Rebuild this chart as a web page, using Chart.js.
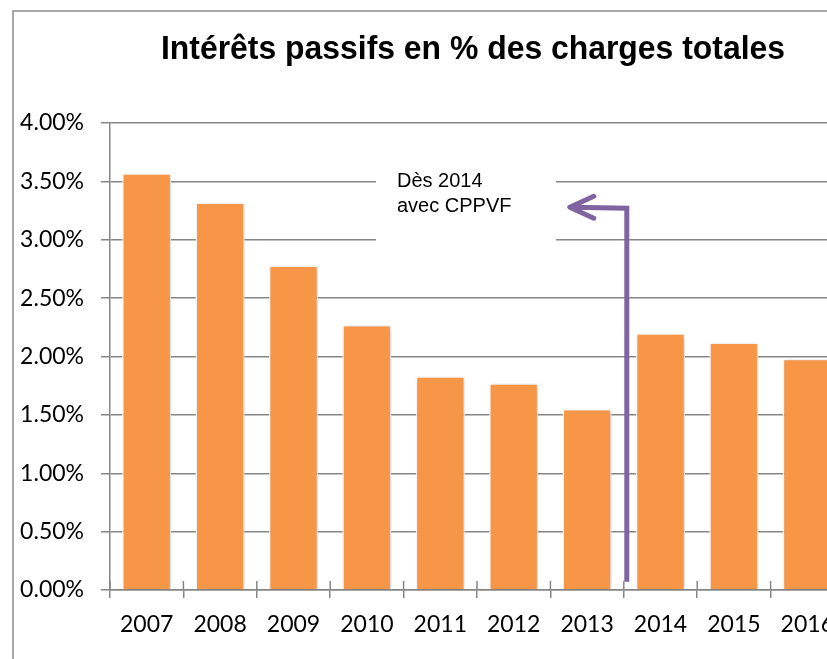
<!DOCTYPE html>
<html>
<head>
<meta charset="utf-8">
<script src="https://cdn.jsdelivr.net/npm/chart.js@4.4.1/dist/chart.umd.min.js"></script>
<style>
  html, body { margin: 0; padding: 0; background: #fff; overflow: hidden; }
  canvas { display: block; }
</style>
</head>
<body>
<canvas id="chart" width="850" height="659"></canvas>
<script>
// Data
const years = ["2007", "2008", "2009", "2010", "2011", "2012", "2013", "2014", "2015", "2016"];
const interestShare = [3.57, 3.32, 2.78, 2.27, 1.83, 1.77, 1.55, 2.20, 2.12, 1.98];
const titleText = "Intérêts passifs en % des charges totales";
const noteLines = ["Dès 2014", "avec CPPVF"];

const BAR_ORANGE = '#F79646';
const GRID_GREY = '#868686';
const ARROW_PURPLE = '#8064A2';

// frame, title, note box and arrow
const decorations = {
    id: 'decorations',
    beforeDraw(chart) {
        const ctx = chart.ctx;
        ctx.save();
        ctx.strokeStyle = '#8c8c8c';
        ctx.lineWidth = 1.5;
        ctx.beginPath();
        ctx.moveTo(13, 659);
        ctx.lineTo(13, 11);
        ctx.lineTo(850, 11);
        ctx.stroke();

        ctx.fillStyle = '#000';
        ctx.font = 'bold 33px "Liberation Sans", Arial, sans-serif';
        ctx.textAlign = 'left';
        ctx.textBaseline = 'alphabetic';
        ctx.fillText(titleText, 161, 59, 624);
        ctx.restore();
    },
    beforeDatasetsDraw(chart) {
        const ctx = chart.ctx;
        ctx.save();
        ctx.shadowColor = 'rgba(0,0,0,0.22)';
        ctx.shadowBlur = 4;
        ctx.shadowOffsetX = 1;
        ctx.shadowOffsetY = 1;
    },
    afterDatasetsDraw(chart) {
        const ctx = chart.ctx;
        ctx.restore();

        const x = chart.scales.x;
        const y = chart.scales.y;
        const area = chart.chartArea;

        // crossing tick marks above the category axis
        ctx.save();
        ctx.strokeStyle = GRID_GREY;
        ctx.lineWidth = 1.5;
        const step = (area.right - area.left) / years.length;
        for (let i = 0; i <= years.length; i++) {
            const px = area.left + i * step;
            ctx.beginPath();
            ctx.moveTo(px, area.bottom - 9);
            ctx.lineTo(px, area.bottom);
            ctx.stroke();
        }

        // white box behind the note
        ctx.fillStyle = '#fff';
        ctx.fillRect(376, 160, 180, 90);
        ctx.fillStyle = '#000';
        ctx.font = '20px "Liberation Sans", Arial, sans-serif';
        ctx.textAlign = 'left';
        ctx.textBaseline = 'alphabetic';
        ctx.fillText(noteLines[0], 397, 187);
        ctx.fillText(noteLines[1], 397, 212);

        // arrow from the 2013/2014 boundary up and back to the note
        const boundary = (x.getPixelForValue(6) + x.getPixelForValue(7)) / 2 + 3;
        const yTop = y.getPixelForValue(3.27);
        const yBottom = y.getPixelForValue(0.07);
        const tipX = boundary - 57;
        ctx.strokeStyle = ARROW_PURPLE;
        ctx.lineWidth = 5;
        ctx.lineJoin = 'miter';
        ctx.beginPath();
        ctx.moveTo(boundary, yBottom);
        ctx.lineTo(boundary, yTop);
        ctx.lineTo(tipX + 2, yTop - 1);
        ctx.stroke();
        ctx.lineCap = 'round';
        ctx.lineJoin = 'round';
        ctx.beginPath();
        ctx.moveTo(tipX + 24, yTop - 12);
        ctx.lineTo(tipX, yTop - 1);
        ctx.lineTo(tipX + 24, yTop + 10);
        ctx.stroke();
        ctx.restore();
    }
};

new Chart(document.getElementById('chart'), {
    type: 'bar',
    data: {
        labels: years,
        datasets: [{
            data: interestShare,
            backgroundColor: BAR_ORANGE,
            borderColor: '#ffffff',
            borderWidth: 1.5,
            categoryPercentage: 1,
            barPercentage: 0.67
        }]
    },
    options: {
        responsive: false,
        animation: false,
        devicePixelRatio: 1,
        layout: { padding: { top: 123, left: 0, right: 6, bottom: 0 } },
        plugins: {
            legend: { display: false },
            title: { display: false },
            tooltip: { enabled: false }
        },
        scales: {
            y: {
                min: 0,
                max: 4,
                ticks: {
                    stepSize: 0.5,
                    color: '#000',
                    padding: 17,
                    font: { family: 'Lato', size: 23 },
                    callback: v => v.toFixed(2) + '%'
                },
                grid: { color: GRID_GREY, lineWidth: 1.5, tickLength: 9 },
                border: { color: GRID_GREY, width: 1.5 },
                afterFit(scale) { scale.width = 110; }
            },
            x: {
                ticks: {
                    color: '#000',
                    padding: 13,
                    font: { family: 'Lato', size: 23 }
                },
                grid: { drawOnChartArea: false, color: GRID_GREY, lineWidth: 1.5, tickLength: 8 },
                border: { color: GRID_GREY, width: 1.5 },
                afterFit(scale) { scale.height = 69; }
            }
        }
    },
    plugins: [decorations]
});
</script>
</body>
</html>
